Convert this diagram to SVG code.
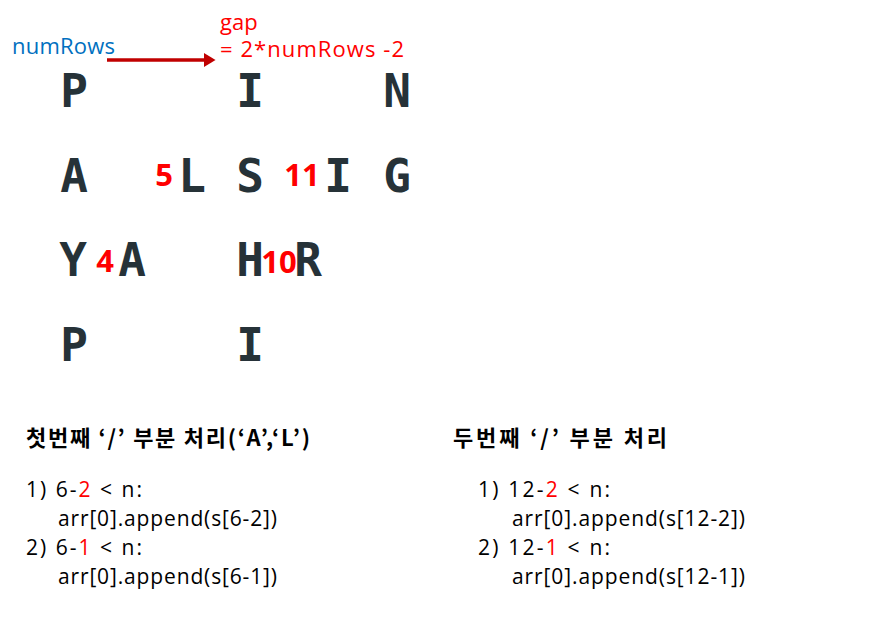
<svg xmlns="http://www.w3.org/2000/svg" width="879" height="625" viewBox="0 0 879 625">
<style>
.big{font-family:"DejaVu Sans Mono","Liberation Mono",monospace;font-weight:bold;font-size:46px;fill:#263238;text-anchor:middle}
.num{font-family:"Open Sans","Noto Sans",sans-serif;font-weight:bold;font-size:31px;fill:#FF0000;text-anchor:middle}
.lbl{font-family:"Open Sans","Noto Sans","Noto Sans CJK KR",sans-serif;font-size:22px}
.head{font-family:"Noto Sans CJK KR","Noto Sans",sans-serif;font-weight:bold;font-size:22px;fill:#000}
.code{font-family:"Open Sans","Noto Sans",sans-serif;font-size:21px;fill:#000}
.red{fill:#FF0000}
</style>
<defs>
<marker id="ah" markerWidth="4" markerHeight="4" refX="0" refY="2" orient="auto" markerUnits="strokeWidth">
<polygon points="0,0 3.3,2 0,4" fill="#C00000"/>
</marker>
</defs>
<rect width="879" height="625" fill="#FFFFFF"/>
<g id="label-numRows"><text class="lbl" x="12" y="54" fill="#0070C0" textLength="103">numRows</text></g>
<g id="label-gap"><text class="lbl" x="220" y="30" fill="#FF0000">gap</text><text class="lbl" x="220" y="57" fill="#FF0000" textLength="184">= 2*numRows -2</text></g>
<g id="connectors"><line x1="107" y1="60" x2="204" y2="60" stroke="#C00000" stroke-width="3.5" marker-end="url(#ah)"/></g>
<g id="letters">
<text class="big" x="74" y="107">P</text>
<text class="big" x="250" y="107">I</text>
<text class="big" x="397" y="107">N</text>
<text class="big" x="74" y="192">A</text>
<text class="big" x="192" y="192">L</text>
<text class="big" x="250" y="192">S</text>
<text class="big" x="338" y="192">I</text>
<text class="big" x="397" y="192">G</text>
<text class="big" x="73" y="276">Y</text>
<text class="big" x="132" y="276">A</text>
<text class="big" x="250" y="276">H</text>
<text class="big" x="308" y="276">R</text>
<text class="big" x="74" y="361">P</text>
<text class="big" x="250" y="361">I</text>
</g>
<g id="indices">
<text class="num" x="164" y="186">5</text>
<text class="num" x="302" y="186">11</text>
<text class="num" x="105" y="272">4</text>
<text class="num" x="279" y="273">10</text>
</g>
<g id="first-block">
<text class="head" x="26" y="446" textLength="284">첫번째 ‘/’ 부분 처리(‘A’,‘L’)</text>
<text class="code" x="26" y="497" textLength="116">1) 6-<tspan class="red">2</tspan> &lt; n:</text>
<text class="code" x="58" y="526" textLength="219">arr[0].append(s[6-2])</text>
<text class="code" x="26" y="555" textLength="116">2) 6-<tspan class="red">1</tspan> &lt; n:</text>
<text class="code" x="58" y="584" textLength="219">arr[0].append(s[6-1])</text>
</g>
<g id="second-block">
<text class="head" x="453" y="446" textLength="214">두번째 ‘/’ 부분 처리</text>
<text class="code" x="478" y="497" textLength="132">1) 12-<tspan class="red">2</tspan> &lt; n:</text>
<text class="code" x="512" y="526" textLength="233">arr[0].append(s[12-2])</text>
<text class="code" x="478" y="555" textLength="132">2) 12-<tspan class="red">1</tspan> &lt; n:</text>
<text class="code" x="512" y="584" textLength="233">arr[0].append(s[12-1])</text>
</g>
</svg>
